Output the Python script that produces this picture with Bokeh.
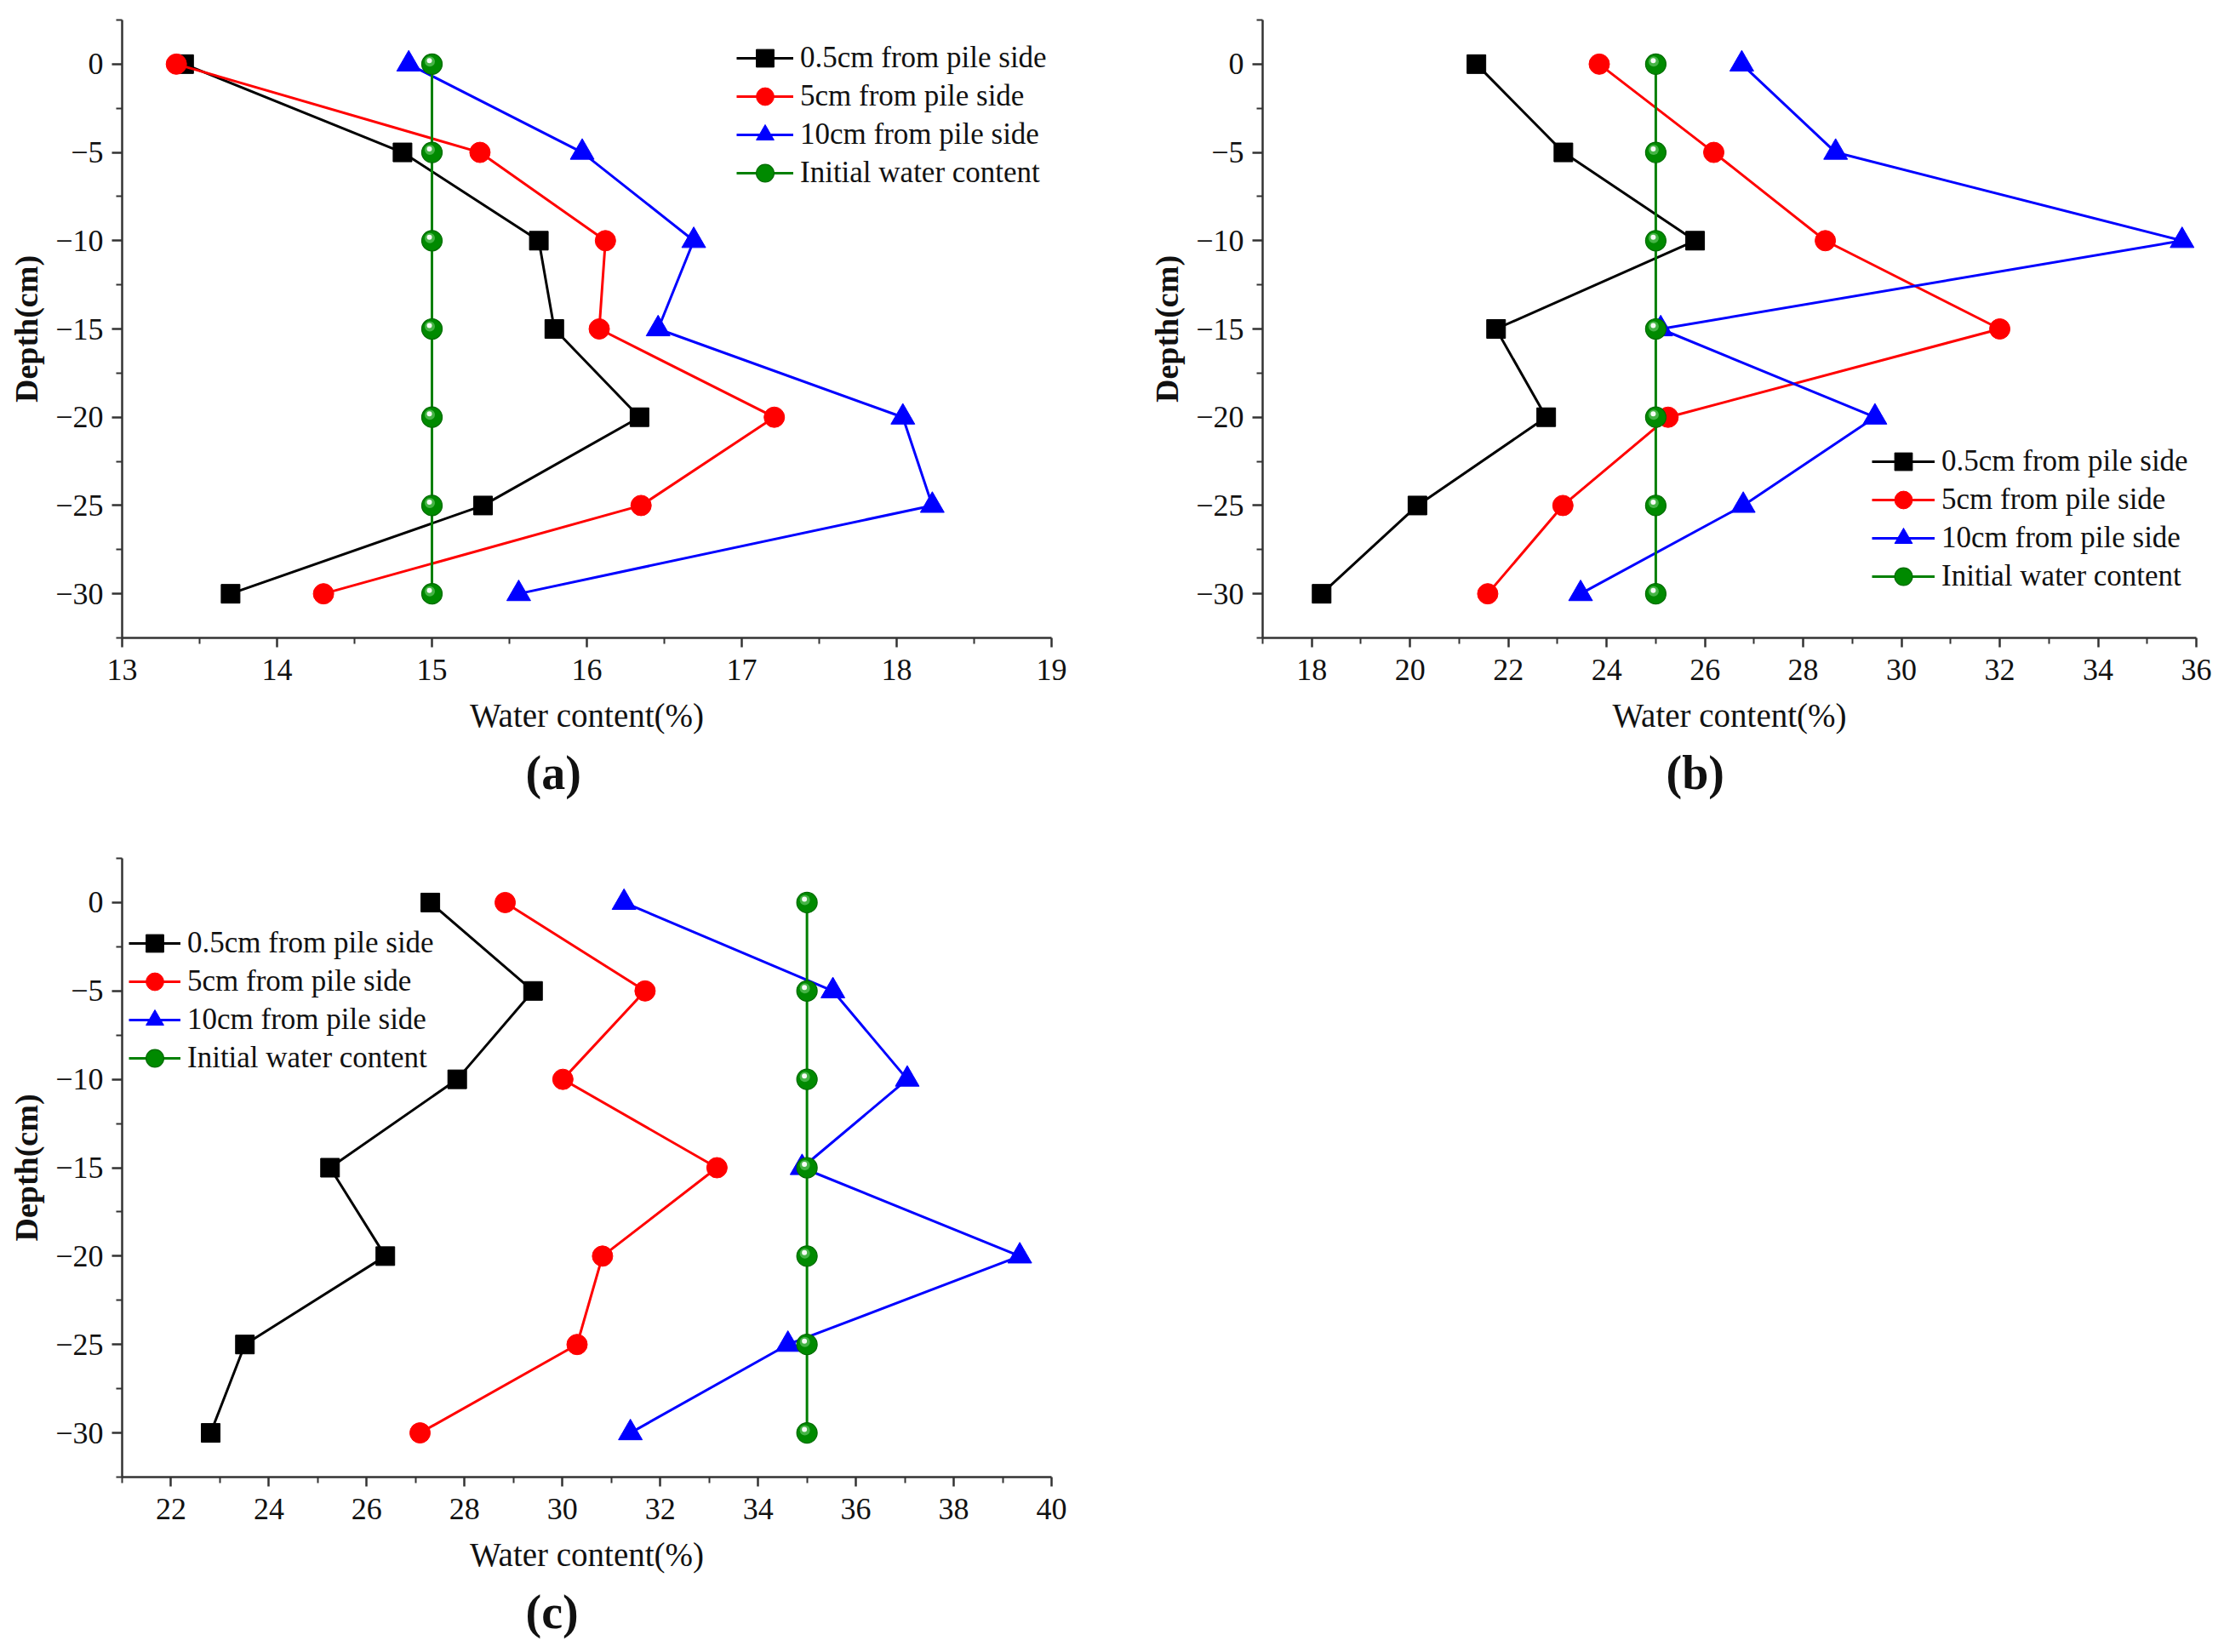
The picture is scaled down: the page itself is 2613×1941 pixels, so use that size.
from bokeh.plotting import figure
from bokeh.models import Range1d, FixedTicker, Legend, LegendItem, ColumnDataSource
from bokeh.transform import dodge
from bokeh.layouts import column, row
from bokeh.embed import file_html
from bokeh.resources import INLINE

# ---------------- data ----------------
depth = [0, -5, -10, -15, -20, -25, -30]
series_names = ["0.5cm from pile side", "5cm from pile side",
                "10cm from pile side", "Initial water content"]

a_05cm = [13.40, 14.81, 15.69, 15.79, 16.34, 15.33, 13.70]
a_5cm = [13.35, 15.31, 16.12, 16.08, 17.21, 16.35, 14.30]
a_10cm = [14.85, 15.97, 16.69, 16.46, 18.04, 18.23, 15.56]
a_init = [15, 15, 15, 15, 15, 15, 15]

b_05cm = [21.35, 23.12, 25.80, 21.75, 22.77, 20.15, 18.20]
b_5cm = [23.85, 26.18, 28.45, 32.00, 25.25, 23.11, 21.58]
b_10cm = [26.75, 28.66, 35.71, 25.10, 29.46, 26.78, 23.47]
b_init = [25, 25, 25, 25, 25, 25, 25]

c_05cm = [27.30, 29.40, 27.85, 25.25, 26.38, 23.51, 22.81]
c_5cm = [28.83, 31.69, 30.01, 33.16, 30.82, 30.30, 27.09]
c_10cm = [31.26, 35.53, 37.05, 34.90, 39.35, 34.61, 31.39]
c_init = [35, 35, 35, 35, 35, 35, 35]

a_xticks = [13, 14, 15, 16, 17, 18, 19]
a_xlabels = ["13", "14", "15", "16", "17", "18", "19"]
a_xminor = [13.5, 14.5, 15.5, 16.5, 17.5, 18.5]

b_xticks = [18, 20, 22, 24, 26, 28, 30, 32, 34, 36]
b_xlabels = ["18", "20", "22", "24", "26", "28", "30", "32", "34", "36"]
b_xminor = [17, 19, 21, 23, 25, 27, 29, 31, 33, 35]

c_xticks = [22, 24, 26, 28, 30, 32, 34, 36, 38, 40]
c_xlabels = ["22", "24", "26", "28", "30", "32", "34", "36", "38", "40"]
c_xminor = [21, 23, 25, 27, 29, 31, 33, 35, 37, 39]

depth_ticks = [0, -5, -10, -15, -20, -25, -30]
depth_labels = ["0", "\u22125", "\u221210", "\u221215", "\u221220", "\u221225", "\u221230"]
depth_minor = [2.5, -2.5, -7.5, -12.5, -17.5, -22.5, -27.5, -32.5]

panel_titles = ["(a)", "(b)", "(c)"]
x_axis_label = "Water content(%)"
y_axis_label = "Depth(cm)"

FONT = "Liberation Serif"
COLORS = ["#000000", "#ff0000", "#0000ff", "#008000"]
Y_RANGE = (-32.5, 2.5)

LEG_ROW = 45      # pitch between legend rows (px)
LEG_GLYPH_H = 52  # glyph box height (controls legend marker size)


def make_panel(xr, xticks, xlabels, xminor, series, title, leg_x, leg_first_center,
               glyph_w, mb_left, mb_right, mb_top, mb_bottom, fw, fh):
    p = figure(frame_width=fw, frame_height=fh,
               x_range=Range1d(*xr), y_range=Range1d(*Y_RANGE),
               output_backend="svg", toolbar_location=None,
               min_border_left=mb_left, min_border_right=mb_right,
               min_border_top=mb_top, min_border_bottom=mb_bottom,
               title_location="below")
    p.outline_line_color = None
    p.grid.visible = False
    p.background_fill_color = "white"

    for ax, ticks, labels, minor in ((p.xaxis[0], xticks, xlabels, xminor),
                                     (p.yaxis[0], depth_ticks, depth_labels, depth_minor)):
        ax.ticker = FixedTicker(ticks=ticks, minor_ticks=minor)
        ax.major_label_overrides = dict(zip(ticks, labels))
        ax.axis_line_color = "#333333"
        ax.axis_line_width = 2.5
        ax.major_tick_line_color = "#333333"
        ax.major_tick_line_width = 2.5
        ax.minor_tick_line_color = "#333333"
        ax.minor_tick_line_width = 2
        ax.major_tick_in = 0
        ax.minor_tick_in = 0
        ax.major_label_text_font = FONT
        ax.major_label_text_font_size = "36px"
        ax.major_label_text_color = "#111111"
        ax.axis_label_text_font = FONT
        ax.axis_label_text_color = "#111111"

    xa = p.xaxis[0]
    xa.major_tick_out = 11
    xa.minor_tick_out = 7
    xa.major_label_standoff = 14
    xa.axis_label = x_axis_label
    xa.axis_label_text_font_size = "39px"
    xa.axis_label_text_font_style = "normal"
    xa.axis_label_standoff = 17

    ya = p.yaxis[0]
    ya.major_tick_out = 12
    ya.minor_tick_out = 7
    ya.major_label_standoff = 10
    ya.axis_label = y_axis_label
    ya.axis_label_text_font_size = "38px"
    ya.axis_label_text_font_style = "bold"
    ya.axis_label_standoff = 10

    p.title.text = title
    p.title.align = "left"
    p.title.offset = 474
    p.title.text_font = FONT
    p.title.text_font_size = "56px"
    p.title.text_font_style = "bold"
    p.title.text_color = "#111111"
    p.title.standoff = 20

    # pixel -> data conversion for the small highlight on the green balls
    px_x = (xr[1] - xr[0]) / fw
    px_y = (Y_RANGE[1] - Y_RANGE[0]) / fh

    markers = ["square", "circle", "triangle", "circle"]
    sizes = [22, 24, 28, 24]
    for i, xs in enumerate(series):
        col = COLORS[i]
        ln = p.line(xs, depth, line_color=col, line_width=3)
        if i < 3:
            sc = p.scatter(xs, depth, marker=markers[i], size=sizes[i],
                           fill_color=col, line_color=col)
        else:
            src = ColumnDataSource(dict(x=xs, y=depth))
            sc = p.scatter("x", "y", source=src, marker="circle", size=sizes[i],
                           fill_color="#008a00", line_color="#006a00", line_width=1.2)
            p.scatter(dodge("x", -2.5 * px_x, range=p.x_range),
                      dodge("y", 3.0 * px_y, range=p.y_range), source=src,
                      marker="circle", size=12, fill_color="#4cb84c",
                      line_color=None, fill_alpha=0.9)
            p.scatter(dodge("x", -3.0 * px_x, range=p.x_range),
                      dodge("y", 4.0 * px_y, range=p.y_range), source=src,
                      marker="circle", size=6, fill_color="#ffffff",
                      line_color=None, fill_alpha=0.95)

        # one single-row legend per series, so that the rows can sit close together
        center_from_top = leg_first_center + LEG_ROW * i
        bottom = fh - center_from_top - LEG_GLYPH_H / 2
        leg = Legend(items=[LegendItem(label=series_names[i], renderers=[ln, sc])],
                     location=(leg_x, bottom))
        leg.label_text_font = FONT
        leg.label_text_font_size = "35px"
        leg.label_text_color = "#111111"
        leg.glyph_width = glyph_w
        leg.glyph_height = LEG_GLYPH_H
        leg.label_height = LEG_GLYPH_H
        leg.spacing = 0
        leg.label_standoff = 8
        leg.padding = 0
        leg.margin = 0
        leg.border_line_color = None
        leg.background_fill_alpha = 0
        p.add_layout(leg)
    return p


pa = make_panel((13, 19), a_xticks, a_xlabels, a_xminor,
                [a_05cm, a_5cm, a_10cm, a_init], panel_titles[0],
                722, 44.5, 67, 143, 100, 23, 244, 1092, 726)
pb = make_panel((17, 36), b_xticks, b_xlabels, b_xminor,
                [b_05cm, b_5cm, b_10cm, b_init], panel_titles[1],
                716, 519, 74, 148, 18, 23, 244, 1097, 726)
pc = make_panel((21, 40), c_xticks, c_xlabels, c_xminor,
                [c_05cm, c_5cm, c_10cm, c_init], panel_titles[2],
                8, 100, 61, 143, 100, 15, 190, 1092, 727)

layout = column(row(pa, pb), pc)
open("out.html", "w").write(file_html(layout, INLINE))
